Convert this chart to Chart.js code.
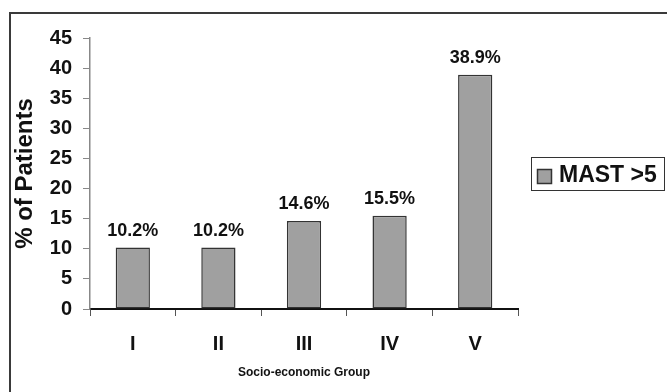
<!DOCTYPE html>
<html>
<head>
<meta charset="utf-8">
<title>MAST >5 by socio-economic group</title>
<script src="https://cdn.jsdelivr.net/npm/chart.js@4"></script>
<style>
  html, body { margin: 0; padding: 0; background: #ffffff; }
  #wrap { width: 667px; height: 392px; }
</style>
</head>
<body>
<div id="wrap"><canvas id="chart" width="667" height="392"></canvas></div>
<script>
// Socio-economic groups and share of patients with MAST score above 5
const groups = ['I', 'II', 'III', 'IV', 'V'];
const mastAbove5 = [10.2, 10.2, 14.6, 15.5, 38.9];
const seriesName = 'MAST >5';
const yTicks = [0, 5, 10, 15, 20, 25, 30, 35, 40, 45];

const FONT = '"Liberation Sans", Arial, Helvetica, sans-serif';
const BAR_FILL = '#a0a0a0';
const BAR_EDGE = '#333333';

// Thin frame along the left and top of the figure
const framePlugin = {
  id: 'frame',
  beforeDraw(chart) {
    const ctx = chart.ctx;
    ctx.save();
    ctx.fillStyle = '#ffffff';
    ctx.fillRect(0, 0, chart.width, chart.height);
    ctx.strokeStyle = '#3a3a3a';
    ctx.lineWidth = 2;
    ctx.beginPath();
    ctx.moveTo(10, chart.height);
    ctx.lineTo(10, 13);
    ctx.lineTo(chart.width, 13);
    ctx.stroke();
    ctx.restore();
  }
};

// Percentage above each bar
const valueLabels = {
  id: 'valueLabels',
  afterDatasetsDraw(chart) {
    const ctx = chart.ctx;
    const meta = chart.getDatasetMeta(0);
    const values = chart.data.datasets[0].data;
    ctx.save();
    ctx.font = 'bold 18px ' + FONT;
    ctx.fillStyle = '#111111';
    ctx.textAlign = 'center';
    ctx.textBaseline = 'alphabetic';
    meta.data.forEach((bar, i) => {
      ctx.fillText(values[i].toFixed(1) + '%', bar.x, bar.y - 12);
    });
    ctx.restore();
  }
};

// Boxed legend to the right of the plot
const boxLegend = {
  id: 'boxLegend',
  afterDraw(chart) {
    const ctx = chart.ctx;
    const ds = chart.data.datasets[0];
    const x = 531, y = 157, w = 133, h = 33;
    ctx.save();
    ctx.strokeStyle = '#333333';
    ctx.lineWidth = 1;
    ctx.strokeRect(x + 0.5, y + 0.5, w, h);
    ctx.fillStyle = ds.backgroundColor;
    ctx.fillRect(x + 6.5, y + 12.5, 14, 14);
    ctx.strokeStyle = ds.borderColor;
    ctx.lineWidth = 1.5;
    ctx.strokeRect(x + 6.5, y + 12.5, 14, 14);
    ctx.fillStyle = '#111111';
    ctx.font = 'bold 23px ' + FONT;
    ctx.textAlign = 'left';
    ctx.textBaseline = 'middle';
    ctx.fillText(ds.label, x + 28, y + 19);
    ctx.restore();
  }
};

new Chart(document.getElementById('chart'), {
  type: 'bar',
  data: {
    labels: groups,
    datasets: [{
      label: seriesName,
      data: mastAbove5,
      backgroundColor: BAR_FILL,
      borderColor: BAR_EDGE,
      borderWidth: 1.5,
      borderSkipped: false,
      barPercentage: 0.4,
      categoryPercentage: 1.0
    }]
  },
  options: {
    responsive: false,
    devicePixelRatio: 1,
    animation: false,
    layout: { padding: { left: 0, top: 38, right: 149, bottom: 0 } },
    plugins: {
      legend: { display: false },
      tooltip: { enabled: false }
    },
    scales: {
      x: {
        grid: {
          offset: true,
          drawOnChartArea: false,
          drawTicks: true,
          tickLength: 7,
          color: '#555555',
          lineWidth: 1
        },
        border: { color: '#111111', width: 2 },
        ticks: {
          color: '#111111',
          font: { family: FONT, size: 20, weight: 'bold' },
          padding: 16
        },
        title: {
          display: true,
          text: 'Socio-economic Group',
          color: '#111111',
          font: { family: FONT, size: 12, weight: 'bold' },
          padding: { top: 0, bottom: 12 }
        },
        afterFit(scale) { scale.height = 83; }
      },
      y: {
        min: 0,
        max: 45,
        afterBuildTicks(scale) { scale.ticks = yTicks.map(v => ({ value: v })); },
        grid: {
          drawOnChartArea: false,
          drawTicks: true,
          tickLength: 7,
          color: '#888888',
          lineWidth: 1
        },
        border: { color: '#888888', width: 1.5 },
        ticks: {
          color: '#111111',
          font: { family: FONT, size: 20, weight: 'bold' },
          padding: 11
        },
        title: {
          display: true,
          text: '% of Patients',
          color: '#111111',
          font: { family: FONT, size: 24, weight: 'bold' },
          padding: { top: 11, bottom: 0 }
        },
        afterFit(scale) { scale.width = 90; }
      }
    }
  },
  plugins: [framePlugin, valueLabels, boxLegend]
});
</script>
</body>
</html>
